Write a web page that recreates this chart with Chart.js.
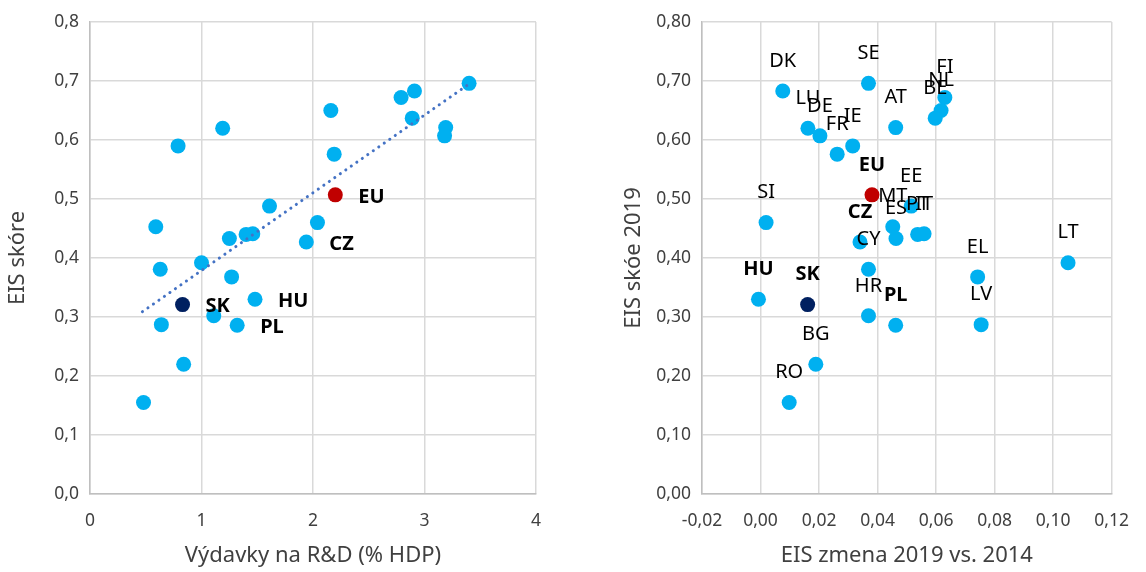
<!DOCTYPE html>
<html>
<head>
<meta charset="utf-8">
<script src="https://cdn.jsdelivr.net/npm/chart.js@4.4.1/dist/chart.umd.min.js"></script>
<style>
  body { margin: 0; background: #fff; }
  .panel { position: absolute; top: 0; }
</style>
</head>
<body>
<div class="panel" style="left:0"><canvas id="rdChart" width="565" height="572"></canvas></div>
<div class="panel" style="left:578px"><canvas id="changeChart" width="568" height="572"></canvas></div>
<script>
// values, one entry per country
const countries = ['SE', 'DK', 'FI', 'NL', 'BE', 'AT', 'LU', 'DE', 'IE', 'FR', 'EU', 'EE', 'SI', 'MT',
    'PT', 'IT', 'ES', 'CZ', 'LT', 'CY', 'EL', 'HU', 'SK', 'HR', 'LV', 'PL', 'BG', 'RO'];
const rdSpend = [3.40, 2.91, 2.79, 2.16, 2.89, 3.19, 1.19, 3.18, 0.79, 2.19, 2.20, 1.61, 2.04, 0.59,
    1.40, 1.46, 1.25, 1.94, 1.00, 0.63, 1.27, 1.48, 0.83, 1.11, 0.64, 1.32, 0.84, 0.48];
const eisChange = [0.0369, 0.0076, 0.0630, 0.0617, 0.0597, 0.0462, 0.0162, 0.0203, 0.0315, 0.0262, 0.0381,
    0.0515, 0.0019, 0.0452, 0.0537, 0.0559, 0.0463, 0.0340, 0.1051, 0.0369, 0.0742, -0.0007, 0.0161,
    0.0369, 0.0754, 0.0462, 0.0189, 0.0098];
const eisScore = [0.696, 0.683, 0.672, 0.650, 0.637, 0.621, 0.620, 0.607, 0.590, 0.576, 0.507, 0.488, 0.460,
    0.453, 0.440, 0.441, 0.433, 0.427, 0.392, 0.381, 0.368, 0.330, 0.321, 0.302, 0.287, 0.286, 0.220, 0.155];
// linear trend line ends as drawn
const trendX = [0.47, 3.40];
const trendY = [0.309, 0.695];
const boldLabels = ['EU', 'CZ', 'SK', 'HU', 'PL'];

const FONT = '"Noto Sans", "Open Sans", sans-serif';
const TEXT = '#404040';

function pointColor(name) {
    if (name === 'EU') return '#c00000';
    if (name === 'SK') return '#002060';
    return '#00b0f0';
}

// draws the country names next to the dots
const pointLabels = {
    id: 'pointLabels',
    afterDatasetsDraw(chart, args, opts) {
        const ctx = chart.ctx;
        const meta = chart.getDatasetMeta(0);
        meta.data.forEach((pt, i) => {
            const name = countries[i];
            const bold = boldLabels.includes(name);
            if (opts.onlyBold && !bold) return;
            ctx.save();
            ctx.font = (bold ? 'bold ' : '') + '20px ' + FONT;
            ctx.fillStyle = '#000';
            ctx.textBaseline = 'middle';
            if (opts.position === 'right') {
                ctx.textAlign = 'left';
                ctx.fillText(name, pt.x + 23, pt.y + 2);
            } else {
                ctx.textAlign = 'center';
                ctx.fillText(name, pt.x, pt.y - 30);
            }
            ctx.restore();
        });
    }
};

function axis(min, max, step, decimals, title, fitSize, isY) {
    return {
        type: 'linear',
        min: min,
        max: max,
        border: { color: '#bfbfbf', width: 1.5 },
        grid: { color: '#d9d9d9', lineWidth: 1.5, drawTicks: false },
        ticks: {
            stepSize: step,
            padding: isY ? 11 : 17,
            color: TEXT,
            font: { family: FONT, size: 17.5 },
            callback: v => (Math.abs(v) < 1e-9 ? 0 : v).toFixed(decimals).replace('.', ',')
        },
        title: {
            display: true,
            text: title,
            color: TEXT,
            font: { family: FONT, size: 22 },
            padding: 3
        },
        afterFit(scale) {
            if (isY) scale.width = fitSize;
            else scale.height = fitSize;
        }
    };
}

function makeChart(id, xValues, xAxis, yAxis, labelOpts, padding, extra) {
    const points = xValues.map((x, i) => ({ x: x, y: eisScore[i] }));
    const datasets = [{
        type: 'scatter',
        data: points,
        backgroundColor: countries.map(pointColor),
        borderWidth: 0,
        pointRadius: 7.5,
        pointHoverRadius: 7.5,
        order: 1
    }];
    if (extra) datasets.push(extra);
    return new Chart(document.getElementById(id), {
        type: 'scatter',
        data: { datasets: datasets },
        options: {
            responsive: false,
            animation: false,
            layout: { padding: padding },
            scales: { x: xAxis, y: yAxis },
            plugins: {
                legend: { display: false },
                tooltip: { enabled: false },
                pointLabels: labelOpts
            }
        },
        plugins: [pointLabels]
    });
}

makeChart('rdChart', rdSpend,
    axis(0, 4, 1, 0, 'Výdavky na R&D (% HDP)', 78, false),
    axis(0, 0.8, 0.1, 1, 'EIS skóre', 88, true),
    { position: 'right', onlyBold: true },
    { top: 22, right: 29, left: 2, bottom: 0 },
    {
        type: 'line',
        data: trendX.map((x, i) => ({ x: x, y: trendY[i] })),
        borderColor: '#4472c4',
        borderWidth: 3,
        borderDash: [0.1, 6.6],
        borderCapStyle: 'round',
        pointRadius: 0,
        fill: false,
        order: 0
    });

makeChart('changeChart', eisChange,
    axis(-0.02, 0.12, 0.02, 2, 'EIS zmena 2019 vs. 2014', 78, false),
    axis(0, 0.8, 0.1, 2, 'EIS skóe 2019', 84, true),
    { position: 'above', onlyBold: false },
    { top: 22, right: 18, left: 40, bottom: 0 });
</script>
</body>
</html>
